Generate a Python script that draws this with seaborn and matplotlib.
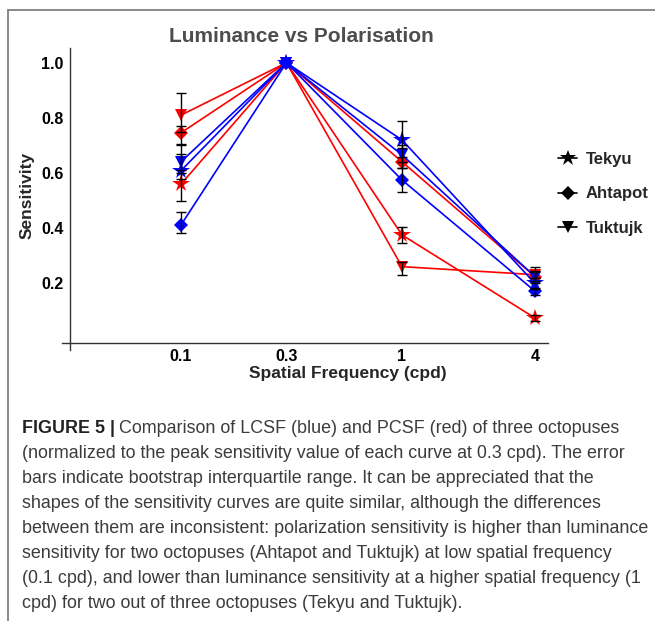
import numpy as np
import pandas as pd
import matplotlib
matplotlib.use("Agg")
import matplotlib.pyplot as plt
from matplotlib.lines import Line2D
import seaborn as sns

# ---------------- data ----------------
freqs = [0.1, 0.3, 1, 4]
octopuses = ["Tekyu", "Ahtapot", "Tuktujk"]
conditions = ["Polarisation", "Luminance"]

lum_tekyu = [0.609, 1.0, 0.720, 0.200]
lum_ahtapot = [0.412, 1.0, 0.575, 0.172]
lum_tuktujk = [0.641, 1.0, 0.666, 0.225]
pol_tekyu = [0.560, 1.0, 0.376, 0.075]
pol_ahtapot = [0.746, 1.0, 0.641, 0.225]
pol_tuktujk = [0.810, 1.0, 0.261, 0.232]

lum_tekyu_lo = [0.580, 1.0, 0.690, 0.180]
lum_tekyu_hi = [0.670, 1.0, 0.790, 0.220]
lum_ahtapot_lo = [0.383, 1.0, 0.533, 0.158]
lum_ahtapot_hi = [0.459, 1.0, 0.620, 0.185]
lum_tuktujk_lo = [0.610, 1.0, 0.640, 0.200]
lum_tuktujk_hi = [0.705, 1.0, 0.700, 0.245]
pol_tekyu_lo = [0.500, 1.0, 0.346, 0.065]
pol_tekyu_hi = [0.600, 1.0, 0.406, 0.085]
pol_ahtapot_lo = [0.700, 1.0, 0.620, 0.210]
pol_ahtapot_hi = [0.770, 1.0, 0.660, 0.240]
pol_tuktujk_lo = [0.750, 1.0, 0.231, 0.220]
pol_tuktujk_hi = [0.890, 1.0, 0.279, 0.260]

xtick_vals = [0.1, 0.3, 1, 4]
xtick_labels = ["0.1", "0.3", "1", "4"]
ytick_vals = [0.2, 0.4, 0.6, 0.8, 1.0]
ytick_labels = ["0.2", "0.4", "0.6", "0.8", "1.0"]

title = "Luminance vs Polarisation"
xlabel = "Spatial Frequency (cpd)"
ylabel = "Sensitivity"
caption_bold = "FIGURE 5 |"
caption_lines = [
    " Comparison of LCSF (blue) and PCSF (red) of three octopuses",
    "(normalized to the peak sensitivity value of each curve at 0.3 cpd). The error",
    "bars indicate bootstrap interquartile range. It can be appreciated that the",
    "shapes of the sensitivity curves are quite similar, although the differences",
    "between them are inconsistent: polarization sensitivity is higher than luminance",
    "sensitivity for two octopuses (Ahtapot and Tuktujk) at low spatial frequency",
    "(0.1 cpd), and lower than luminance sensitivity at a higher spatial frequency (1",
    "cpd) for two out of three octopuses (Tekyu and Tuktujk).",
]

series = {
    ("Luminance", "Tekyu"): (lum_tekyu, lum_tekyu_lo, lum_tekyu_hi),
    ("Luminance", "Ahtapot"): (lum_ahtapot, lum_ahtapot_lo, lum_ahtapot_hi),
    ("Luminance", "Tuktujk"): (lum_tuktujk, lum_tuktujk_lo, lum_tuktujk_hi),
    ("Polarisation", "Tekyu"): (pol_tekyu, pol_tekyu_lo, pol_tekyu_hi),
    ("Polarisation", "Ahtapot"): (pol_ahtapot, pol_ahtapot_lo, pol_ahtapot_hi),
    ("Polarisation", "Tuktujk"): (pol_tuktujk, pol_tuktujk_lo, pol_tuktujk_hi),
}

# ---------------- style ----------------
sns.set_theme(style="white")
plt.rcParams["font.family"] = ["Liberation Sans", "DejaVu Sans"]

colors = {"Luminance": "#0000ff", "Polarisation": "#ff0000"}
markers = {"Tekyu": "*", "Ahtapot": "D", "Tuktujk": "v"}
msizes = {"Tekyu": 13, "Ahtapot": 7.5, "Tuktujk": 9}

W, H = 655, 621
fig = plt.figure(figsize=(W / 100, H / 100), dpi=100)
ax = fig.add_axes([62 / W, 1 - 350 / H, (548 - 62) / W, (350 - 48) / H])

rows = []
for (cond, octo), (vals, lo, hi) in series.items():
    for f, v, l, h in zip(freqs, vals, lo, hi):
        rows.append(dict(freq=f, sens=v, lo=l, hi=h, condition=cond, octopus=octo))
df = pd.DataFrame(rows)

for cond in conditions:
    for octo in octopuses:
        sub = df[(df.condition == cond) & (df.octopus == octo)]
        sns.lineplot(data=sub, x="freq", y="sens", color=colors[cond],
                     marker=markers[octo], markersize=msizes[octo],
                     markeredgewidth=0, linewidth=1.2, estimator=None,
                     legend=False, ax=ax)

for cond in conditions:
    for octo in octopuses:
        sub = df[(df.condition == cond) & (df.octopus == octo) & (df.hi > df.lo)]
        ax.errorbar(sub.freq, sub.sens, yerr=[sub.sens - sub.lo, sub.hi - sub.sens],
                    fmt="none", ecolor="black", elinewidth=1.0, capsize=3.5,
                    capthick=1.0, zorder=6)

ax.set_xscale("log")
ax.set_xlim(10 ** ((62 - 402) / 221), 10 ** ((548 - 402) / 221))
ax.set_ylim((338.7 - 350) / 276, (338.7 - 48) / 276)

for s in ["top", "right"]:
    ax.spines[s].set_visible(False)
ax.spines["left"].set_position(("data", 0.0316))
ax.spines["bottom"].set_position(("data", -0.0156))
for s in ["left", "bottom"]:
    ax.spines[s].set_color("#333333")
    ax.spines[s].set_linewidth(1.0)

ax.set_xticks(xtick_vals)
ax.set_xticklabels(xtick_labels)
ax.xaxis.set_minor_locator(matplotlib.ticker.NullLocator())
ax.set_yticks(ytick_vals)
ax.set_yticklabels(ytick_labels)
ax.set_yticks(np.arange(0.05, 1.06, 0.05), minor=True)
ax.tick_params(axis="both", which="major", direction="in", length=4, width=0.8,
               color="#333333", labelsize=11.5, pad=5, labelcolor="black")
ax.tick_params(axis="y", which="minor", direction="in", length=2.5, width=0.7,
               color="#555555")
ax.tick_params(axis="x", which="major", pad=4)
for lab in ax.get_xticklabels() + ax.get_yticklabels():
    lab.set_fontweight("bold")

ax.set_xlabel(xlabel, fontsize=12.5, fontweight="bold", va="center")
ax.set_ylabel(ylabel, fontsize=12.5, fontweight="bold", va="center")
ax.xaxis.set_label_coords(0.588, -0.079)
ax.yaxis.set_label_coords(-0.072, 0.513)
ax.grid(False)
ax.set_facecolor("white")

fig.text(301 / W, 1 - 36 / H, title, ha="center", va="center", fontsize=15,
         fontweight="bold", color="#4d4d4d")

handles = [Line2D([], [], color="black", marker=markers[o], markersize=msizes[o] * 0.9,
                  markeredgewidth=0, linewidth=1.2) for o in octopuses]
fig.legend(handles, octopuses, loc="upper left",
           bbox_to_anchor=(550 / W, 1 - 144 / H), frameon=False,
           prop=dict(weight="bold", size=12), handlelength=1.1,
           handletextpad=0.55, labelspacing=1.15, borderpad=0)

# frame lines (top and left border)
fig.add_artist(Line2D([7.5 / W, 7.5 / W], [1 - 9.5 / H, 0], transform=fig.transFigure,
                      color="#808080", lw=1.3))
fig.add_artist(Line2D([7.5 / W, 1], [1 - 9.5 / H, 1 - 9.5 / H], transform=fig.transFigure,
                      color="#808080", lw=1.3))

# caption
cap_font = ["Liberation Sans", "DejaVu Sans"]
cap_size = 12.9
baselines = [433, 458, 483, 508, 533, 558, 583, 608]
fig.canvas.draw()
renderer = fig.canvas.get_renderer()
tb = fig.text(21.5 / W, 1 - baselines[0] / H, caption_bold, ha="left", va="baseline",
              fontsize=cap_size, fontweight="bold", color="#222222", family=cap_font)
bb = tb.get_window_extent(renderer=renderer)
fig.text(bb.x1 / W, 1 - baselines[0] / H, caption_lines[0], ha="left", va="baseline",
         fontsize=cap_size, color="#3c3c3c", family=cap_font)
for line, b in zip(caption_lines[1:], baselines[1:]):
    fig.text(21.5 / W, 1 - b / H, line, ha="left", va="baseline", fontsize=cap_size,
             color="#3c3c3c", family=cap_font)

fig.savefig("out.png", dpi=100, facecolor="white")
